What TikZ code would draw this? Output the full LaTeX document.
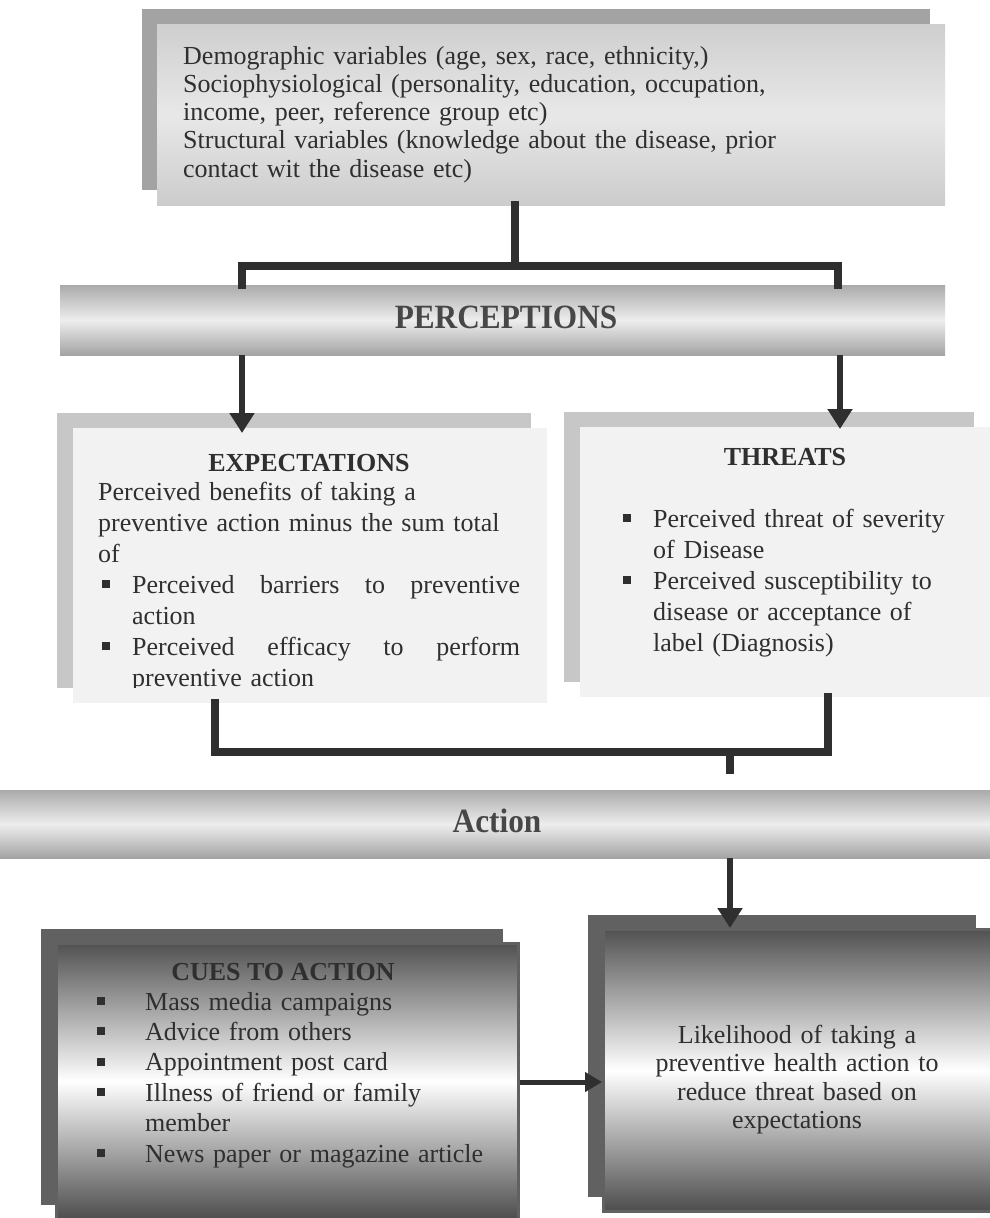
\documentclass[tikz,border=0pt]{standalone}
\usepackage{fontspec}
\setmainfont{Liberation Serif}
\usepackage{graphicx}
\usetikzlibrary{shadows}
\usetikzlibrary{arrows.meta}
\usetikzlibrary{positioning}

\definecolor{inkgray}{HTML}{2F2F2F}
\newcommand{\sqbul}{\rule[5pt]{8pt}{8pt}}
\newcommand{\bul}[1]{\makebox[#1][l]{\sqbul}}

\begin{document}
\begin{tikzpicture}[x=1pt, y=-1pt,
  panel/.style={anchor=north west, inner sep=0pt, draw=none},
  lightpanel/.style={panel, fill=black!5,
    general shadow={shadow xshift=-16pt, shadow yshift=15pt, fill=black!22}},
  greypanel/.style={panel, top color=black!19, bottom color=black!20, middle color=black!9,
    general shadow={shadow xshift=-15pt, shadow yshift=15pt, fill=black!36}},
  darkpanel/.style={panel, draw=black!62, line width=3pt, top color=black!68, bottom color=black!70, middle color=white,
    general shadow={shadow xshift=-16pt, shadow yshift=15pt, fill=black!62}},
  band/.style={panel, top color=black!33, bottom color=black!36, middle color=black!7},
  bodytext/.style={anchor=base west, inner sep=0pt, align=left, text=inkgray,
    font=\fontsize{26}{31}\selectfont},
  titletext/.style={anchor=base, inner sep=0pt, text=inkgray,
    font=\fontsize{26}{31}\selectfont\bfseries},
  bandtext/.style={anchor=base, inner sep=0pt, text=black!72,
    font=\fontsize{34}{38}\selectfont\bfseries},
  bracket/.style={draw=inkgray, line width=8pt, line cap=rect},
  arrowline/.style={draw=inkgray, line width=6pt, -{Triangle[width=24pt,length=20pt]}}
]

% page
\fill[white] (0,0) rectangle (990,1218);
\useasboundingbox (0,0) rectangle (990,1218);

% boxes
\node[greypanel, minimum width=788pt, minimum height=181pt] (topbox) at (157,24) {};
\node[band, minimum width=885pt, minimum height=70pt] (percbar) at (60,285) {};
\node[lightpanel, minimum width=474pt, minimum height=275pt] (expbox) at (73,428) {};
\node[lightpanel, minimum width=410pt, minimum height=270pt] (thrbox) at (580,427) {};
\node[band, minimum width=990pt, minimum height=68pt] (actbar) at (0,790) {};
\node[darkpanel, minimum width=462pt, minimum height=276pt] (cuebox) at (55,942) {};
\node[darkpanel, minimum width=388pt, minimum height=282pt] (likbox) at (602,928) {};

% texts
\node[bodytext, text width=760pt, font=\fontsize{26}{28.3}\selectfont] (toptext) at (183,64)
  {Demographic variables (age, sex, race, ethnicity,)\\
   Sociophysiological (personality, education, occupation,\\
   income, peer, reference group etc)\\
   Structural variables (knowledge about the disease, prior\\
   contact wit the disease etc)};

\node[bandtext] (perclbl) at (506,328) {\scalebox{0.92}[1]{PERCEPTIONS}};

\node[titletext] (expttl) at (309,471) {EXPECTATIONS};
\begin{scope}
  \clip (60,420) rectangle (560,687);
  \node[bodytext, text width=440pt] (exptext) at (98,500)
    {Perceived benefits of taking a\\
     preventive action minus the sum total\\
     of\\
     \hspace*{4pt}\bul{30pt}\makebox[388pt][l]{Perceived\hfill barriers\hfill to\hfill preventive}\\
     \hspace*{34pt}action\\
     \hspace*{4pt}\bul{30pt}\makebox[388pt][l]{Perceived\hfill efficacy\hfill to\hfill perform}\\
     \hspace*{34pt}preventive action};
\end{scope}

\node[titletext] (thrttl) at (785,465) {THREATS};
\node[bodytext, text width=350pt] (thrtext) at (623,527)
  {\bul{30pt}Perceived threat of severity\\
   \hspace*{30pt}of Disease\\
   \bul{30pt}Perceived susceptibility to\\
   \hspace*{30pt}disease or acceptance of\\
   \hspace*{30pt}label (Diagnosis)};

\node[bandtext] (actlbl) at (497,832) {\scalebox{0.92}[1]{Action}};

\node[titletext] (cuettl) at (283,980) {CUES TO ACTION};
\node[bodytext, text width=420pt, font=\fontsize{26}{30.4}\selectfont] (cuetext) at (97,1010)
  {\bul{48pt}Mass media campaigns\\
   \bul{48pt}Advice from others\\
   \bul{48pt}Appointment post card\\
   \bul{48pt}Illness of friend or family\\
   \hspace*{48pt}member\\
   \bul{48pt}News paper or magazine article};

\node[bodytext, anchor=base, text width=380pt, align=center, font=\fontsize{26}{28.5}\selectfont] (liktext) at (797,1043)
  {Likelihood of taking a\\
   preventive health action to\\
   reduce threat based on\\
   expectations};

% connectors
\coordinate (topfork) at (515,266);
\coordinate (expdrop) at (242,266);
\coordinate (thrdrop) at (838,266);
\draw[bracket] (topbox.south -| topfork) -- (topfork);
\draw[bracket] (percbar.north -| expdrop) -- (expdrop) -- (thrdrop) -- (percbar.north -| thrdrop);

\draw[arrowline] (percbar.south -| 242,0) -- (242,433);
\draw[arrowline] (percbar.south -| 840,0) -- (840,429);

\coordinate (lowfork) at (730,752);
\draw[bracket] (expbox.south -| 215,0) -- (215,752) -- (828,752) -- (thrbox.south -| 828,0);
\draw[bracket] (lowfork) -- (730,770);

\draw[arrowline] (actbar.south -| lowfork) -- (likbox.north -| lowfork);
\draw[arrowline, line width=5pt, -{Triangle[width=19pt,length=17pt]}]
  (cuebox.east |- 0,1082) -- (likbox.west |- 0,1082);

\end{tikzpicture}
\end{document}
